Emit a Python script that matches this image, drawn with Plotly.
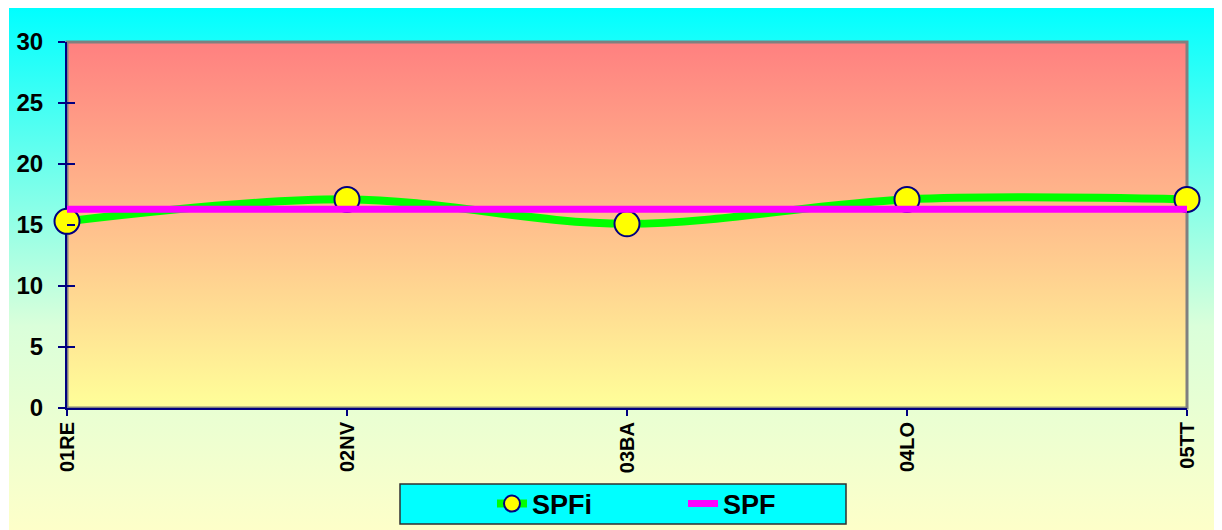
import plotly.graph_objects as go

# ---- data ----
categories = ["01RE", "02NV", "03BA", "04LO", "05TT"]
spfi_values = [15.3, 17.1, 15.1, 17.1, 17.1]
spf_values = [16.3, 16.3, 16.3, 16.3, 16.3]
y_ticks = [0, 5, 10, 15, 20, 25, 30]

# ---- layout geometry (figure pixels; page adds an 8px body margin) ----
W, H = 1222, 530
PL, PR, PT, PB = 59, 1179, 34, 400   # plot area
OL, OT = 1, 0                          # outer chart area offset
FONT = "Liberation Sans, Arial, sans-serif"

xd = [PL / W, PR / W]
yd = [1 - PB / H, 1 - PT / H]

fig = go.Figure()

# outer chart background (gradient)
ox0, ox1, oy0, oy1 = OL / W, 1.0, 0.0, 1 - OT / H
fig.add_trace(go.Scatter(
    x=[ox0, ox1, ox1, ox0, ox0], y=[oy0, oy0, oy1, oy1, oy0],
    xaxis="x", yaxis="y", mode="lines", fill="toself",
    line=dict(width=0, color="rgba(0,0,0,0)"),
    fillgradient=dict(type="vertical",
                      colorscale=[[0, "#FFFFC8"], [0.4, "#DAFFDA"], [1, "#00FFFF"]]),
    hoverinfo="skip", showlegend=False))

# plot area background (gradient) with grey frame
fig.add_trace(go.Scatter(
    x=[xd[0], xd[1], xd[1], xd[0], xd[0]], y=[yd[0], yd[0], yd[1], yd[1], yd[0]],
    xaxis="x", yaxis="y", mode="lines", fill="toself",
    line=dict(width=3, color="#808080"),
    fillgradient=dict(type="vertical",
                      colorscale=[[0, "#FFFF99"], [1, "#FF8080"]]),
    hoverinfo="skip", showlegend=False, cliponaxis=False))

# data series
fig.add_trace(go.Scatter(
    x=categories, y=spfi_values, name="SPFi", xaxis="x2", yaxis="y2",
    mode="lines+markers",
    line=dict(color="#00FF00", width=8, shape="spline", smoothing=1),
    marker=dict(size=25, color="#FFFF00", line=dict(color="#000080", width=2)),
    cliponaxis=False))
fig.add_trace(go.Scatter(
    x=categories, y=spf_values, name="SPF", xaxis="x2", yaxis="y2",
    mode="lines", line=dict(color="#FF00FF", width=7),
    cliponaxis=False))

# helper trace for the inner tick marks
fig.add_trace(go.Scatter(x=[None], y=[None], xaxis="x3", yaxis="y3",
                         showlegend=False, hoverinfo="skip"))

fig.update_layout(
    width=W, height=H,
    margin=dict(l=0, r=0, t=0, b=0, pad=0, autoexpand=False),
    paper_bgcolor="#FFFFFF", plot_bgcolor="rgba(0,0,0,0)",
    xaxis=dict(domain=[0, 1], range=[0, 1], visible=False, fixedrange=True),
    yaxis=dict(domain=[0, 1], range=[0, 1], visible=False, fixedrange=True),
    xaxis2=dict(domain=xd, anchor="y2", type="category", range=[0, 4],
                showgrid=False, zeroline=False,
                showline=True, linecolor="#000080", linewidth=2,
                ticks="outside", ticklen=6, tickwidth=1.5, tickcolor="#000080",
                tickangle=-90, ticklabelstandoff=-2,
                tickfont=dict(family=FONT, size=20, color="#000000", weight="bold"),
                layer="below traces"),
    yaxis2=dict(domain=yd, anchor="x2", range=[0, 30], tickvals=y_ticks,
                showgrid=False, zeroline=False,
                showline=True, linecolor="#000080", linewidth=2,
                ticks="outside", ticklen=7, tickwidth=1.5, tickcolor="#000080",
                tickfont=dict(family=FONT, size=24, color="#000000", weight="bold"),
                ticklabelstandoff=10,
                layer="below traces"),
    xaxis3=dict(overlaying="x2", anchor="y2", type="category", range=[0, 4],
                showgrid=False, zeroline=False, showline=False,
                ticks="inside", ticklen=5, tickwidth=1.5, tickcolor="#000080",
                showticklabels=False, tickvals=categories),
    yaxis3=dict(overlaying="y2", anchor="x2", range=[0, 30], tickvals=y_ticks,
                showgrid=False, zeroline=False, showline=False,
                ticks="inside", ticklen=8, tickwidth=1.5, tickcolor="#000080",
                showticklabels=False),
    showlegend=True,
    legend=dict(orientation="h", x=484 / W, xanchor="left",
                y=1 - 496 / H, yanchor="middle",
                bgcolor="rgba(0,0,0,0)", borderwidth=0,
                entrywidth=146, entrywidthmode="pixels",
                font=dict(family=FONT, size=27, color="#000000", weight="bold")),
    shapes=[dict(type="rect", xref="paper", yref="paper",
                 x0=392 / W, x1=838 / W, y0=1 - 516 / H, y1=1 - 476 / H,
                 fillcolor="#00FFFF", line=dict(color="#303030", width=1.5),
                 layer="above")],
)

fig.write_html("out.html")
